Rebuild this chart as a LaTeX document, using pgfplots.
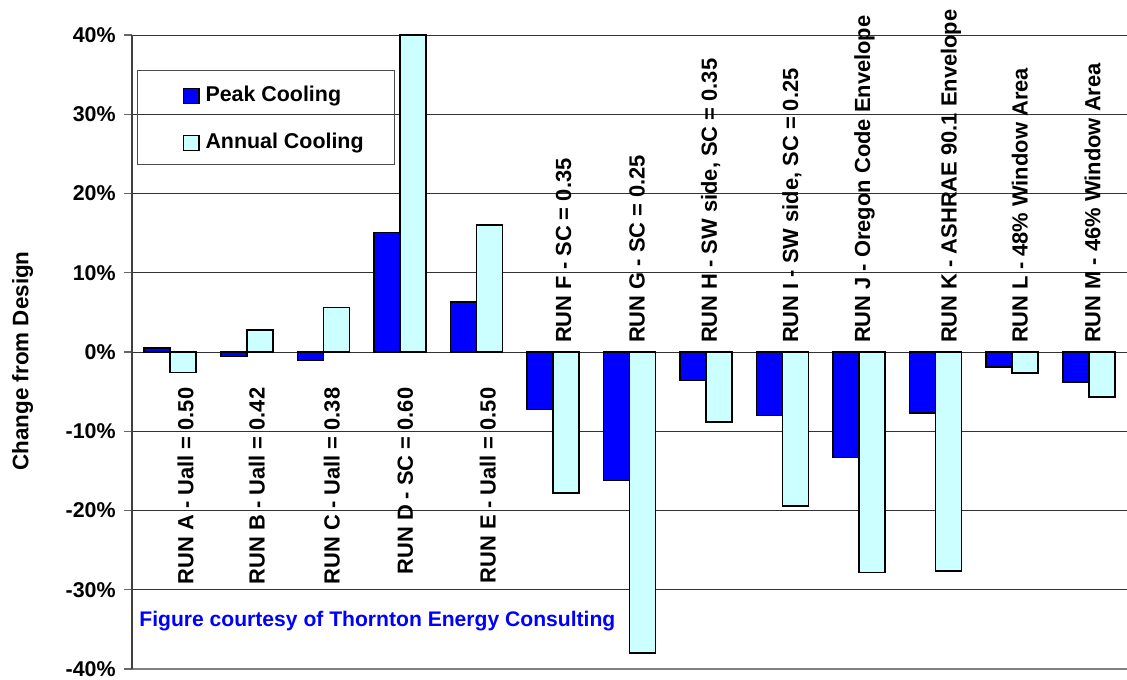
\documentclass[border=0pt]{standalone}
\usepackage{fontspec}
\setmainfont{Liberation Sans}
\usepackage{pgfplots}
\pgfplotsset{compat=1.18}

\definecolor{peakblue}{HTML}{0000FF}
\definecolor{annualcyan}{HTML}{CCFFFF}

\newcommand{\tickfont}{\bfseries\fontsize{10.7}{12}\selectfont}
\newcommand{\runfont}{\bfseries\fontsize{10.95}{12}\selectfont}

\begin{document}
\begin{tikzpicture}
\useasboundingbox (-66pt,-5pt) rectangle (497.5pt,334.5pt);
\begin{axis}[
  scale only axis,
  width=497.5pt, height=317pt,
  xmin=-0.5, xmax=12.5,
  ymin=-40, ymax=40,
  clip=false,
  ybar=0pt, bar width=13pt,
  axis lines*=left,
  axis line style={-},
  x axis line style={draw=black!50, line width=1pt},
  y axis line style={draw=black!75, line width=1pt},
  xtick=\empty,
  ytick={-40,-30,...,40},
  yticklabels={-40\%,-30\%,-20\%,-10\%,0\%,10\%,20\%,30\%,40\%},
  yticklabel style={font=\tickfont, inner sep=0pt, xshift=-4pt},
  ytick style={draw=black!60, line width=0.6pt},
  tick align=outside,
  major tick length=4pt,
  ymajorgrids,
  grid style={draw=black!80, line width=0.5pt},
  ylabel={Change from Design},
  ylabel style={font=\bfseries\fontsize{11.2}{12}\selectfont,
    at={(axis description cs:-0.110,0.486)}, anchor=center},
  legend style={at={(axis description cs:0.0508,0.9196)}, anchor=north west,
    draw=none, fill=none, inner sep=0pt, row sep=14.3pt, column sep=3pt,
    font=\bfseries\fontsize{10.7}{12}\selectfont,
    nodes={inner sep=0pt}},
  legend cell align=left,
]
\addplot[fill=peakblue, draw=black, line width=0.8pt,
  legend image code/.code={\draw[fill=peakblue, draw=black, line width=0.6pt] (0pt,-3.75pt) rectangle (7.7pt,3.75pt);}]
  coordinates {(0,0.5) (1,-0.55) (2,-1.05) (3,15.1) (4,6.3) (5,-7.25) (6,-16.2)
               (7,-3.6) (8,-8.0) (9,-13.3) (10,-7.7) (11,-1.9) (12,-3.8)};
\addlegendentry{Peak Cooling}
\addplot[fill=annualcyan, draw=black, line width=0.8pt,
  legend image code/.code={\draw[fill=annualcyan, draw=black, line width=0.6pt] (0pt,-3.75pt) rectangle (7.7pt,3.75pt);}]
  coordinates {(0,-2.6) (1,2.8) (2,5.6) (3,40) (4,16.0) (5,-17.8) (6,-38.0)
               (7,-8.85) (8,-19.4) (9,-27.8) (10,-27.6) (11,-2.65) (12,-5.65)};
\addlegendentry{Annual Cooling}

% legend frame
\draw[black!70, line width=0.5pt] (axis description cs:0.006,0.9448) rectangle (axis description cs:0.2643,0.7950);

% run descriptions, rotated
\begin{scope}[every node/.style={rotate=90, inner sep=0pt, font=\runfont}]
\node[anchor=east] at (axis cs:0.2,-4.45)  {RUN A - Uall = 0.50};
\node[anchor=east] at (axis cs:1.13,-4.45) {RUN B - Uall = 0.42};
\node[anchor=east] at (axis cs:2.11,-4.45) {RUN C - Uall = 0.38};
\node[anchor=east] at (axis cs:3.07,-4.45) {RUN D - SC = 0.60};
\node[anchor=east] at (axis cs:4.15,-4.45) {RUN E - Uall = 0.50};
\node[anchor=west] at (axis cs:5.14,1.1)   {RUN F - SC = 0.35};
\node[anchor=west] at (axis cs:6.1,1.1)    {RUN G - SC = 0.25};
\node[anchor=west] at (axis cs:7.06,1.1)   {RUN H - SW side, SC = 0.35};
\node[anchor=west] at (axis cs:8.12,1.1)   {RUN I - SW side, SC = 0.25};
\node[anchor=west] at (axis cs:9.07,1.1)   {RUN J - Oregon Code Envelope};
\node[anchor=west] at (axis cs:10.2,1.1)   {RUN K - ASHRAE 90.1 Envelope};
\node[anchor=west] at (axis cs:11.1,1.1)   {RUN L - 48\% Window Area};
\node[anchor=west] at (axis cs:12.05,1.1)  {RUN M - 46\% Window Area};
\end{scope}

\node[anchor=base west, inner sep=0pt, text=peakblue,
  font=\bfseries\fontsize{10.55}{12}\selectfont]
  at (axis description cs:0.00704,0.0678) {Figure courtesy of Thornton Energy Consulting};
\end{axis}
\end{tikzpicture}
\end{document}
